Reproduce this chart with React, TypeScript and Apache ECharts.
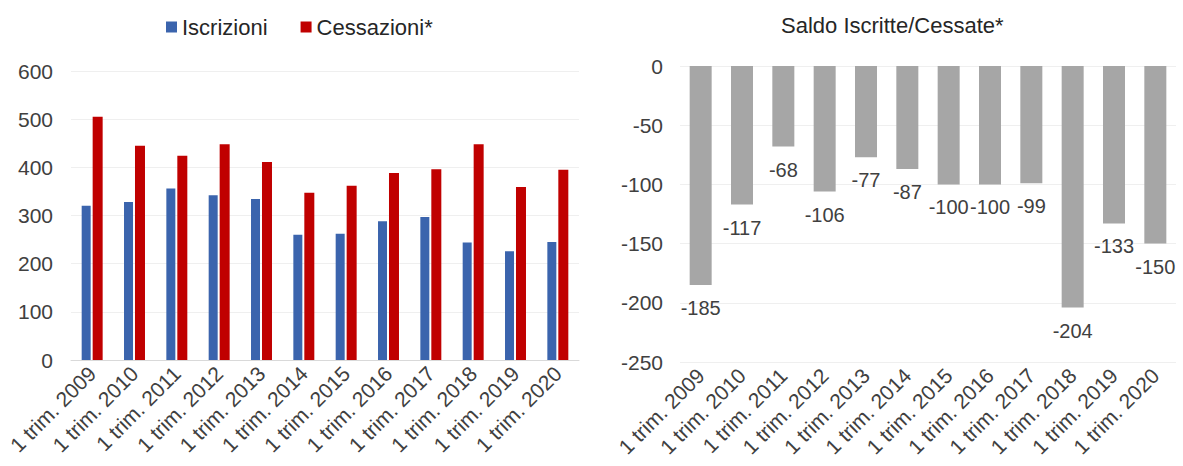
import React, { useEffect, useRef } from "react";
import * as echarts from "echarts";

const categories = [
  "1 trim. 2009", "1 trim. 2010", "1 trim. 2011", "1 trim. 2012",
  "1 trim. 2013", "1 trim. 2014", "1 trim. 2015", "1 trim. 2016",
  "1 trim. 2017", "1 trim. 2018", "1 trim. 2019", "1 trim. 2020",
];
const iscrizioni = [320, 328, 356, 342, 334, 260, 262, 288, 297, 244, 226, 245];
const cessazioni = [505, 445, 424, 448, 411, 347, 362, 388, 396, 448, 359, 395];
const saldo = [-185, -117, -68, -106, -77, -87, -100, -100, -99, -204, -133, -150];
const leftTicks = { min: 0, max: 600, interval: 100 };
const rightTicks = { min: -250, max: 0, interval: 50 };

const FONT = "Liberation Sans, Arial, sans-serif";
const TEXT = "#404040";

export default function App() {
  const ref = useRef<HTMLDivElement>(null);
  useEffect(() => {
    if (!ref.current) return;
    const chart = echarts.init(ref.current, undefined, { renderer: "svg" });
    chart.setOption({
      animation: false,
      textStyle: { fontFamily: FONT, color: TEXT },
      title: {
        text: "Saldo Iscritte/Cessate*",
        left: 776,
        top: 9,
        textStyle: { fontFamily: FONT, fontSize: 22, fontWeight: "normal", color: "#262626" },
      },
      legend: {
        data: ["Iscrizioni", "Cessazioni*"],
        left: 161,
        top: 11,
        itemWidth: 11,
        itemHeight: 11,
        itemGap: 33,
        icon: "rect",
        textStyle: { fontFamily: FONT, fontSize: 22, color: "#262626" },
      },
      grid: [
        { left: 71, top: 71, width: 508, height: 289 },
        { left: 680, top: 66, width: 496, height: 296 },
      ],
      xAxis: [
        {
          type: "category", gridIndex: 0, data: categories,
          axisLine: { lineStyle: { color: "#D9D9D9" } },
          axisTick: { show: false },
          axisLabel: { rotate: 45, fontSize: 21, color: TEXT, fontFamily: FONT, margin: 10, interval: 0 },
        },
        {
          type: "category", gridIndex: 1, data: categories, position: "bottom",
          axisLine: { show: false, onZero: false },
          axisTick: { show: false },
          axisLabel: { rotate: 45, fontSize: 21, color: TEXT, fontFamily: FONT, margin: 10, interval: 0 },
        },
      ],
      yAxis: [
        {
          type: "value", gridIndex: 0, ...leftTicks,
          axisLine: { show: false }, axisTick: { show: false },
          splitLine: { lineStyle: { color: "#EFEFEF" } },
          axisLabel: { fontSize: 21, color: TEXT, fontFamily: FONT, margin: 18 },
        },
        {
          type: "value", gridIndex: 1, ...rightTicks,
          axisLine: { show: false }, axisTick: { show: false },
          splitLine: { lineStyle: { color: "#EFEFEF" } },
          axisLabel: { fontSize: 21, color: TEXT, fontFamily: FONT, margin: 17 },
        },
      ],
      series: [
        {
          name: "Iscrizioni", type: "bar", xAxisIndex: 0, yAxisIndex: 0,
          data: iscrizioni, barWidth: 9, barGap: "22%",
          itemStyle: { color: "#3B64AD" },
        },
        {
          name: "Cessazioni*", type: "bar", xAxisIndex: 0, yAxisIndex: 0,
          data: cessazioni, barWidth: 10, barGap: "22%",
          itemStyle: { color: "#C00000" },
        },
        {
          name: "Saldo", type: "bar", xAxisIndex: 1, yAxisIndex: 1,
          data: saldo, barWidth: 22,
          itemStyle: { color: "#A6A6A6" },
          label: {
            show: true, position: "bottom", distance: 13,
            fontSize: 20, color: TEXT, fontFamily: FONT,
          },
        },
      ],
    });
    return () => chart.dispose();
  }, []);
  return (
    <div
      ref={ref}
      style={{ position: "absolute", left: 0, top: 0, width: 1183, height: 466, background: "#fff" }}
    />
  );
}
